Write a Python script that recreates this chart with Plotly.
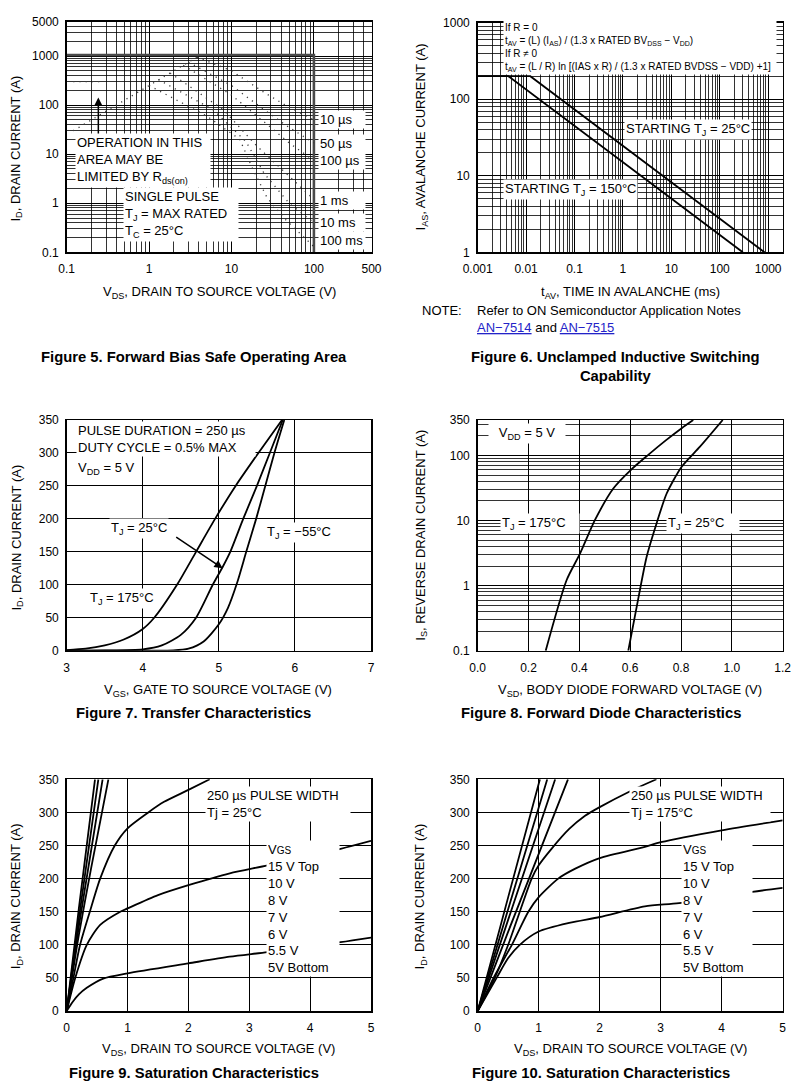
import math
import plotly.graph_objects as go

W, H = 802, 1090
OFF = 8  # page body margin of the exported html
FONT = "Liberation Sans, Arial, Helvetica, sans-serif"


def fx(p):
    return (p - OFF) / W


def fy(p):
    return 1 - (p - OFF) / H


# ---------------- Figure 5 : Forward bias SOA (log-log) ----------------
soa_rds_v = [0.12, 3.8]
soa_rds_i = [30, 950]
soa_pkg_v = [0.12, 0.28]
soa_pkg_i = [300, 300]
soa_box_v = [0.1, 100, 100]
soa_box_i = [1050, 1050, 0.1]
soa_10us_v = [3.8, 10, 25, 50, 100]
soa_10us_i = [950, 500, 180, 90, 50]
soa_50us_v = [3.0, 10, 25, 50, 100]
soa_50us_i = [750, 250, 80, 35, 17]
soa_100us_v = [2.6, 10, 25, 50, 100]
soa_100us_i = [650, 160, 45, 17, 7.4]
soa_1ms_v = [1.8, 8, 20, 40, 100]
soa_1ms_i = [450, 80, 15, 5, 1.2]
soa_10ms_v = [1.3, 6, 15, 25, 50, 100]
soa_10ms_i = [330, 80, 18, 4, 1.0, 0.4]
soa_100ms_v = [1.0, 5, 12.6, 18, 27, 46, 100]
soa_100ms_i = [250, 60, 20, 5.1, 1.3, 0.45, 0.13]
soa_pulse_labels = ["10 µs", "50 µs", "100 µs", "1 ms", "10 ms", "100 ms"]
soa_xticks = [0.1, 1, 10, 100, 500]
soa_yticks = [0.1, 1, 10, 100, 1000, 5000]

# ---------------- Figure 6 : UIS capability (log-log) ----------------
uis_t_25 = [0.001, 0.0122, 841]
uis_i_25 = [200, 200, 1]
uis_t_150 = [0.001, 0.0043, 300]
uis_i_150 = [200, 200, 1]
uis_xticks = [0.001, 0.01, 0.1, 1, 10, 100, 1000]
uis_yticks = [1, 10, 100, 1000]

# ---------------- Figure 7 : Transfer characteristics ----------------
tr_vgs_175 = [3.0, 3.25, 3.5, 3.75, 4.0, 4.15, 4.45, 4.7, 4.95, 5.22, 5.52, 5.83]
tr_id_175 = [1, 3, 8, 17, 33, 50, 100, 150, 200, 250, 300, 350]
tr_vgs_25 = [3.0, 3.5, 4.0, 4.25, 4.5, 4.7, 4.92, 5.05, 5.15, 5.32, 5.5, 5.67, 5.84]
tr_id_25 = [0, 0.3, 2, 8, 24, 50, 100, 127, 150, 200, 250, 300, 350]
tr_vgs_m55 = [3.0, 4.0, 4.4, 4.6, 4.8, 5.0, 5.12, 5.24, 5.36, 5.49, 5.61, 5.73, 5.86]
tr_id_m55 = [0, 0, 0.3, 3, 14, 40, 65, 103, 150, 200, 250, 300, 350]
tr_xticks = [3, 4, 5, 6, 7]
tr_yticks = [0, 50, 100, 150, 200, 250, 300, 350]

# ---------------- Figure 8 : Forward diode ----------------
fd_v_175 = [0.2675, 0.35, 0.4025, 0.4615, 0.5335, 0.603, 0.671, 0.74, 0.8025, 0.848]
fd_i_175 = [0.1, 1.22, 3.1, 10.2, 31, 60, 102, 170, 262, 350]
fd_v_25 = [0.5925, 0.6255, 0.665, 0.704, 0.7435, 0.8025, 0.8745, 0.964]
fd_i_25 = [0.1, 0.47, 2.8, 9.1, 26, 67, 136, 350]
fd_xticks = [0.0, 0.2, 0.4, 0.6, 0.8, 1.0, 1.2]
fd_xtext = ["0.0", "0.2", "0.4", "0.6", "0.8", "1.0", "1.2"]
fd_yticks = [0.1, 1, 10, 100, 350]

# ---------------- Figure 9 : Saturation, Tj = 25 C ----------------
s25_v_15 = [0, 0.2, 0.465]
s25_i_15 = [0, 155, 350]
s25_v_10 = [0, 0.2, 0.52]
s25_i_10 = [0, 140, 350]
s25_v_8 = [0, 0.2, 0.59]
s25_i_8 = [0, 128, 350]
s25_v_7 = [0, 0.2, 0.4, 0.685]
s25_i_7 = [0, 115, 215, 350]
s25_v_6 = [0, 0.11, 0.22, 0.38, 0.55, 0.79, 1.0, 1.34, 1.6, 2.0, 2.35]
s25_i_6 = [0, 50, 100, 150, 200, 250, 276, 300, 316, 334, 350]
s25_v_55 = [0, 0.14, 0.33, 0.55, 0.88, 1.0, 1.5, 2.0, 2.68, 3.3, 4.5, 5.0]
s25_i_55 = [0, 50, 100, 130, 150, 155, 175, 190, 208, 220, 245, 257]
s25_v_5 = [0, 0.1, 0.2, 0.33, 0.6, 1.0, 2.0, 2.68, 3.3, 4.5, 5.0]
s25_i_5 = [0, 14, 25, 35, 49, 57, 72, 82, 89, 104, 111]

# ---------------- Figure 10 : Saturation, Tj = 175 C ----------------
s175_v_15 = [0, 0.5, 1.02]
s175_i_15 = [0, 172, 350]
s175_v_10 = [0, 0.5, 1.14]
s175_i_10 = [0, 154, 350]
s175_v_8 = [0, 0.5, 1.27]
s175_i_8 = [0, 138, 350]
s175_v_7 = [0, 0.5, 1.48]
s175_i_7 = [0, 120, 350]
s175_v_6 = [0, 0.28, 0.5, 0.69, 0.885, 1.0, 1.21, 1.5, 1.76, 2.0, 2.5, 2.93]
s175_i_6 = [0, 50, 100, 150, 200, 220, 245, 275, 295, 308, 332, 350]
s175_v_55 = [0, 0.26, 0.56, 0.83, 1.0, 1.32, 1.6, 2.0, 2.74, 3.0, 4.0, 5.0]
s175_i_55 = [0, 50, 100, 150, 172, 200, 215, 231, 248, 255, 273, 288]
s175_v_5 = [0, 0.31, 0.5, 0.69, 1.0, 1.5, 2.0, 2.74, 3.3, 4.5, 5.0]
s175_i_5 = [0, 50, 80, 100, 120, 133, 142, 158, 163, 180, 186]

sat_xticks = [0, 1, 2, 3, 4, 5]
sat_yticks = [0, 50, 100, 150, 200, 250, 300, 350]
vgs_legend = ["V<span style='font-size:10px'>GS</span>", "15 V Top", "10 V", "8 V",
              "7 V", "6 V", "5.5 V", "5V Bottom"]


def log_minor(lo_exp, hi_exp, limit):
    vals = []
    for e in range(lo_exp, hi_exp + 1):
        for m in range(2, 10):
            v = m * 10 ** e
            if v < limit:
                vals.append(v)
    return vals


# plot-area pixel boxes in the reference picture (left, right, top, bottom)
boxes = {
    "1": (66.7, 371.5, 21.7, 252.3),
    "2": (477.7, 782.7, 22.7, 252.3),
    "3": (66.7, 371.0, 420.0, 650.7),
    "4": (477.7, 782.7, 420.0, 650.7),
    "5": (66.7, 371.0, 779.3, 1011.0),
    "6": (477.7, 782.7, 779.3, 1011.0),
}


def make_axis(k, which, rng, typ, tickvals, ticktext=None, minor=None):
    l, r, t, b = boxes[k]
    dom = [fx(l), fx(r)] if which == "x" else [fy(b), fy(t)]
    other = ("y" if which == "x" else "x") + ("" if k == "1" else k)
    d = dict(domain=dom, anchor=other, range=rng, type=typ, automargin=False,
             showline=True, mirror=True, linecolor="black", linewidth=1.5,
             showgrid=True, gridcolor="black", gridwidth=1, zeroline=False,
             tickmode="array", tickvals=tickvals,
             ticktext=ticktext if ticktext else [str(v) for v in tickvals],
             ticks="outside", ticklen=5 if which == "x" else 4,
             tickcolor="rgba(0,0,0,0)",
             tickfont=dict(family=FONT, size=12, color="black"),
             fixedrange=True)
    if minor:
        d["minor"] = dict(tickmode="array", tickvals=minor, showgrid=True,
                          gridcolor="black", gridwidth=0.8, ticks="")
    return d


fig = go.Figure()


def add_line(x, y, k, width=1.8, dash=None, color="black", shape="spline"):
    xa = "x" if k == "1" else "x" + k
    ya = "y" if k == "1" else "y" + k
    ln = dict(color=color, width=width, shape=shape)
    if dash:
        ln["dash"] = dash
    if shape == "spline":
        ln["smoothing"] = 0.7
    fig.add_trace(go.Scatter(x=x, y=y, mode="lines", xaxis=xa, yaxis=ya,
                             line=ln, showlegend=False, hoverinfo="skip",
                             cliponaxis=True))


# Figure 5 traces
add_line(soa_box_v, soa_box_i, "1", width=2.6, color="#4a4a4a", shape="linear")
DOT = "1.2px,5px"
for vv, ii in [(soa_rds_v, soa_rds_i), (soa_pkg_v, soa_pkg_i),
               (soa_10us_v, soa_10us_i), (soa_50us_v, soa_50us_i),
               (soa_100us_v, soa_100us_i), (soa_1ms_v, soa_1ms_i),
               (soa_10ms_v, soa_10ms_i), (soa_100ms_v, soa_100ms_i)]:
    add_line(vv, ii, "1", width=1.3, dash=DOT, color="#3a3a3a", shape="linear")

# Figure 6 traces
add_line(uis_t_25, uis_i_25, "2", width=1.8, shape="linear")
add_line(uis_t_150, uis_i_150, "2", width=1.8, shape="linear")

# Figure 7 traces
add_line(tr_vgs_175, tr_id_175, "3")
add_line(tr_vgs_25, tr_id_25, "3")
add_line(tr_vgs_m55, tr_id_m55, "3")

# Figure 8 traces
add_line(fd_v_175, fd_i_175, "4")
add_line(fd_v_25, fd_i_25, "4")

# Figure 9 traces
for vv, ii in [(s25_v_15, s25_i_15), (s25_v_10, s25_i_10), (s25_v_8, s25_i_8),
               (s25_v_7, s25_i_7), (s25_v_6, s25_i_6), (s25_v_55, s25_i_55),
               (s25_v_5, s25_i_5)]:
    add_line(vv, ii, "5")

# Figure 10 traces
for vv, ii in [(s175_v_15, s175_i_15), (s175_v_10, s175_i_10), (s175_v_8, s175_i_8),
               (s175_v_7, s175_i_7), (s175_v_6, s175_i_6), (s175_v_55, s175_i_55),
               (s175_v_5, s175_i_5)]:
    add_line(vv, ii, "6")

layout = dict(
    width=W, height=H, autosize=False,
    margin=dict(l=0, r=0, t=0, b=0, pad=0, autoexpand=False),
    paper_bgcolor="white", plot_bgcolor="white",
    font=dict(family=FONT, size=13, color="black"),
    showlegend=False,
)
layout["xaxis"] = make_axis("1", "x", [-1, math.log10(500)], "log", soa_xticks,
                            minor=log_minor(-1, 2, 500))
layout["yaxis"] = make_axis("1", "y", [-1, math.log10(5000)], "log", soa_yticks,
                            minor=log_minor(-1, 3, 5000))
layout["xaxis2"] = make_axis("2", "x", [-3, math.log10(2000)], "log", uis_xticks,
                             minor=log_minor(-3, 3, 2000))
layout["yaxis2"] = make_axis("2", "y", [0, 3], "log", uis_yticks,
                             minor=log_minor(0, 2, 1000))
layout["xaxis3"] = make_axis("3", "x", [3, 7], "linear", tr_xticks)
layout["yaxis3"] = make_axis("3", "y", [0, 350], "linear", tr_yticks)
layout["xaxis4"] = make_axis("4", "x", [0, 1.2], "linear", fd_xticks, fd_xtext)
layout["yaxis4"] = make_axis("4", "y", [-1, math.log10(350)], "log", fd_yticks,
                             minor=log_minor(-1, 2, 350))
layout["xaxis5"] = make_axis("5", "x", [0, 5], "linear", sat_xticks)
layout["yaxis5"] = make_axis("5", "y", [0, 350], "linear", sat_yticks)
layout["xaxis6"] = make_axis("6", "x", [0, 5], "linear", sat_xticks)
layout["yaxis6"] = make_axis("6", "y", [0, 350], "linear", sat_yticks)

ann = []


def text(x, y, s, size=13, xanchor="left", yanchor="middle", bg=None,
         angle=0, align="left", width=None):
    a = dict(x=fx(x), y=fy(y), xref="paper", yref="paper", text=s,
             showarrow=False, xanchor=xanchor, yanchor=yanchor,
             font=dict(family=FONT, size=size, color="black"),
             textangle=angle, align=align, borderpad=1)
    if bg:
        a["bgcolor"] = bg
    if width:
        a["width"] = width
    ann.append(a)


# arrows
arrow5_x, arrow5_tail, arrow5_head = 0.242, 12, 142
ann.append(dict(x=math.log10(arrow5_x), y=math.log10(arrow5_head), xref="x", yref="y",
                ax=math.log10(arrow5_x), ay=math.log10(arrow5_tail), axref="x", ayref="y",
                showarrow=True, arrowhead=2, arrowsize=1.1, arrowwidth=1.5,
                arrowcolor="black", text=""))
arrow7_head = (5.05, 125)
arrow7_tail = (4.42, 174)
ann.append(dict(x=arrow7_head[0], y=arrow7_head[1], xref="x3", yref="y3",
                ax=arrow7_tail[0], ay=arrow7_tail[1], axref="x3", ayref="y3",
                showarrow=True, arrowhead=2, arrowsize=1.1, arrowwidth=1.5,
                arrowcolor="black", text=""))

YT_LEFT = 16.5  # centre of the left-column rotated axis titles

# ---- Figure 5 texts
text(75, 161, "OPERATION IN THIS<br>AREA MAY BE<br>LIMITED BY R<sub>ds(on)</sub>",
     bg="white", width=132)
text(123, 214.5, "SINGLE PULSE<br>T<sub>J</sub> = MAX RATED<br>T<sub>C</sub> = 25°C",
     bg="white", width=112)
for lab, yy in zip(soa_pulse_labels, [119, 143.3, 160.7, 200, 222.3, 240]):
    text(318, yy, lab, bg="white", width=44)
text(219, 292.3, "V<sub>DS</sub>, DRAIN TO SOURCE VOLTAGE (V)", xanchor="center")
text(YT_LEFT, 149, "I<sub>D</sub>, DRAIN CURRENT (A)", xanchor="center", angle=-90)
text(193.5, 357, "<b>Figure 5. Forward Bias Safe Operating Area</b>", size=14.8,
     xanchor="center")

# ---- Figure 6 texts
text(503, 47.5,
     "If R = 0<br>t<sub>AV</sub> = (L) (I<sub>AS</sub>) / (1.3 x RATED BV<sub>DSS</sub> − V<sub>DD</sub>)"
     "<br>If R ≠ 0<br>t<sub>AV</sub> = (L / R) ln [(IAS x R) / (1.3 x RATED BVDSS − VDD) +1]",
     size=10, bg="white", width=270)
text(688.3, 130, "STARTING T<sub>J</sub> = 25°C", xanchor="center", bg="white")
text(570, 189.3, "STARTING T<sub>J</sub> = 150°C", xanchor="center", bg="white")
text(630, 292.3, "t<sub>AV</sub>, TIME IN AVALANCHE (ms)", xanchor="center")
text(421.7, 136.7, "I<sub>AS</sub>, AVALANCHE CURRENT (A)", xanchor="center", angle=-90)
text(420, 310, "NOTE:")
text(475, 310, "Refer to ON Semiconductor Application Notes")
text(475, 327,
     "<a href='https://www.onsemi.com'><span style='color:#2323c8;text-decoration:underline'>AN−7514</span></a>"
     " and "
     "<a href='https://www.onsemi.com'><span style='color:#2323c8;text-decoration:underline'>AN−7515</span></a>")
text(615, 366.5, "<b>Figure 6. Unclamped Inductive Switching<br>Capability</b>", size=14.8,
     xanchor="center", align="center")

# ---- Figure 7 texts
text(76, 438.7, "PULSE DURATION = 250 µs<br>DUTY CYCLE = 0.5% MAX", bg="white", width=176)
text(76, 468.3, "V<sub>DD</sub> = 5 V", bg="white", width=62)
text(139, 528, "T<sub>J</sub> = 25°C", xanchor="center", bg="white")
text(299, 532.7, "T<sub>J</sub> = −55°C", xanchor="center", bg="white")
text(122.5, 598, "T<sub>J</sub> = 175°C", xanchor="center", bg="white")
text(217.5, 690.7, "V<sub>GS</sub>, GATE TO SOURCE VOLTAGE (V)", xanchor="center")
text(YT_LEFT, 538, "I<sub>D</sub>, DRAIN CURRENT (A)", xanchor="center", angle=-90)
text(193.3, 713.3, "<b>Figure 7. Transfer Characteristics</b>", size=14.8, xanchor="center")

# ---- Figure 8 texts
text(488, 433.3, "V<sub>DD</sub> = 5 V", bg="white", width=74, align="center")
text(540, 523.3, "T<sub>J</sub> = 175°C", xanchor="center", bg="white", width=76)
text(702.5, 523.3, "T<sub>J</sub> = 25°C", xanchor="center", bg="white", width=70)
text(630, 690.7, "V<sub>SD</sub>, BODY DIODE FORWARD VOLTAGE (V)", xanchor="center")
text(420.7, 535, "I<sub>S</sub>, REVERSE DRAIN CURRENT (A)", xanchor="center", angle=-90)
text(600.5, 713.3, "<b>Figure 8. Forward Diode Characteristics</b>", size=14.8,
     xanchor="center")

# ---- Figure 9 texts
text(205, 804, "250 µs PULSE WIDTH<br>Tj = 25°C", bg="white", width=142)
text(266, 908, "<br>".join(vgs_legend), bg="white", width=70)
text(218.3, 1049, "V<sub>DS</sub>, DRAIN TO SOURCE VOLTAGE (V)", xanchor="center")
text(YT_LEFT, 896.7, "I<sub>D</sub>, DRAIN CURRENT (A)", xanchor="center", angle=-90)
text(194.2, 1073.3, "<b>Figure 9. Saturation Characteristics</b>", size=14.8,
     xanchor="center")

# ---- Figure 10 texts
text(629, 804, "250 µs PULSE WIDTH<br>Tj = 175°C", bg="white", width=138)
text(680.7, 908, "<br>".join(vgs_legend), bg="white", width=68)
text(630, 1049, "V<sub>DS</sub>, DRAIN TO SOURCE VOLTAGE (V)", xanchor="center")
text(420.7, 896.7, "I<sub>D</sub>, DRAIN CURRENT (A)", xanchor="center", angle=-90)
text(601, 1073.3, "<b>Figure 10. Saturation Characteristics</b>", size=14.8,
     xanchor="center")

layout["annotations"] = ann
fig.update_layout(**layout)
fig.write_html("out.html", config={"displayModeBar": False, "staticPlot": True})
